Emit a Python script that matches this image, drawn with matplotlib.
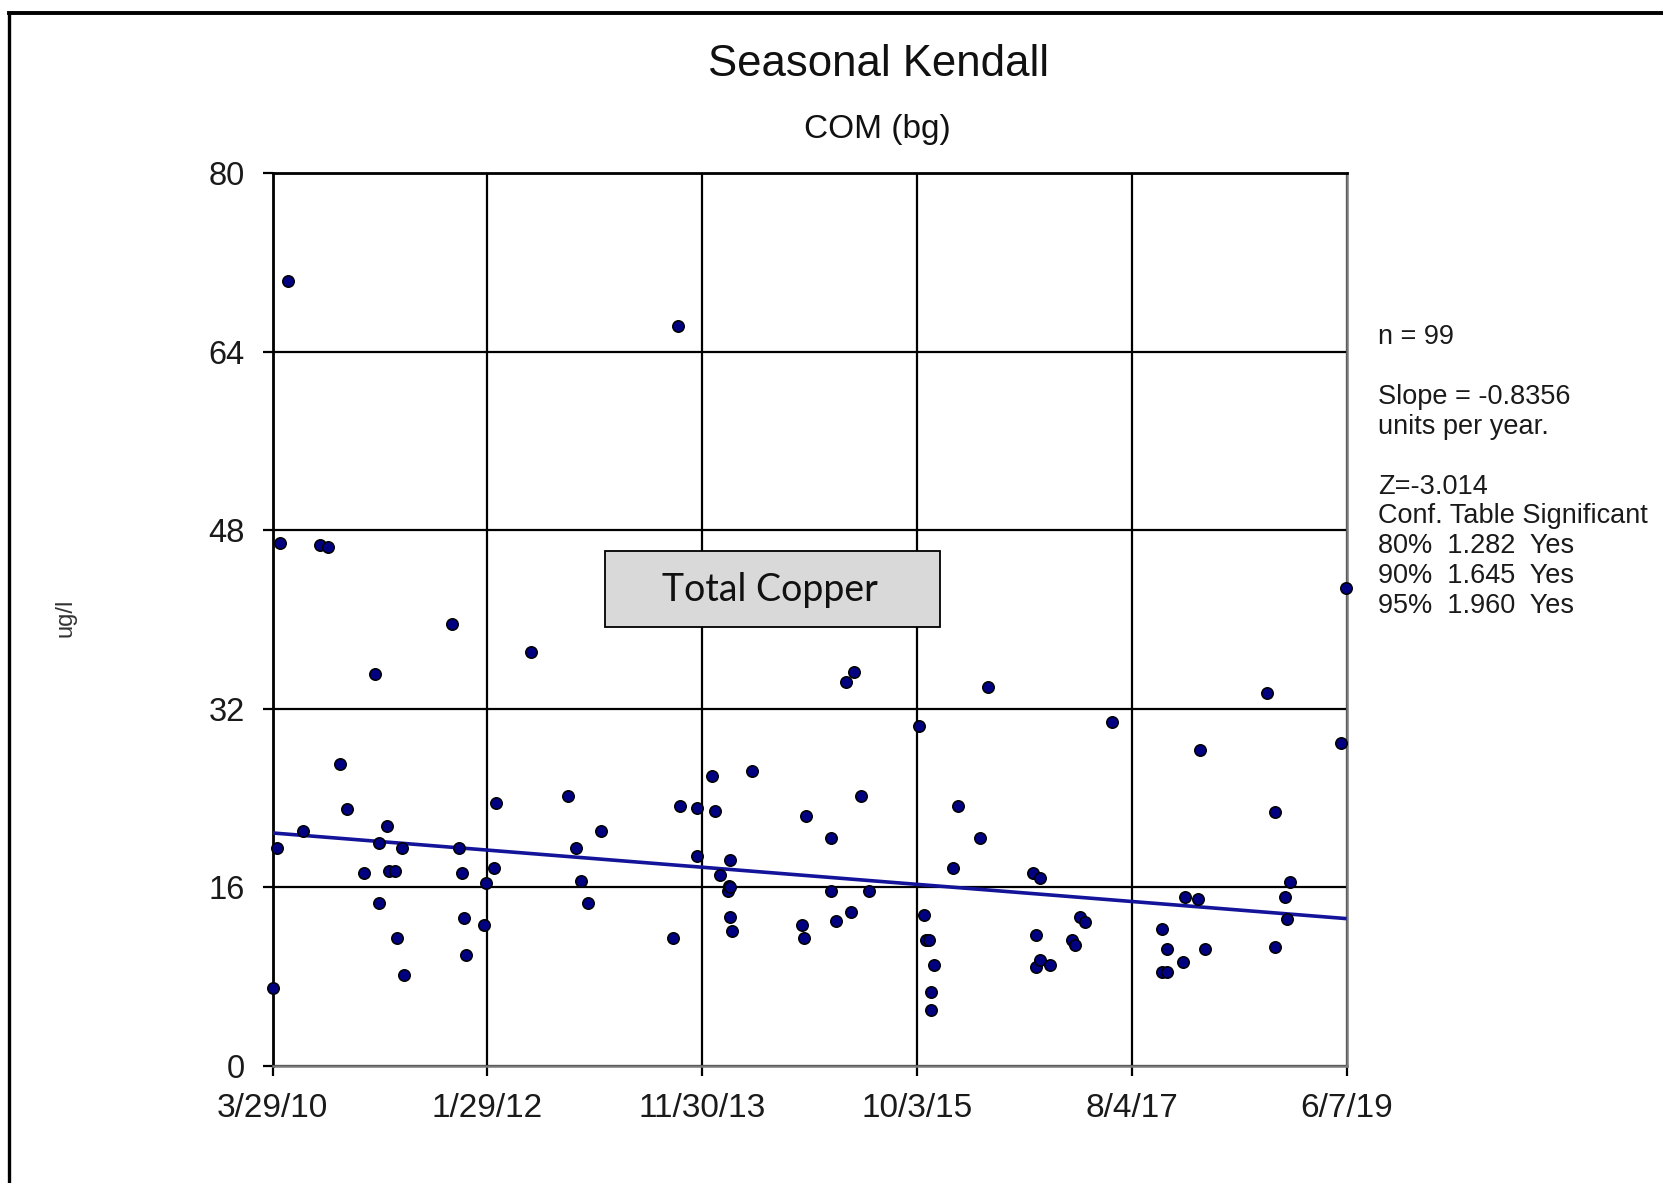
from datetime import datetime, timedelta

import matplotlib
matplotlib.use("Agg")
import matplotlib.pyplot as plt
from matplotlib.patches import Rectangle
from matplotlib.lines import Line2D

plt.rcParams["font.family"] = ["Liberation Sans", "DejaVu Sans"]

# sample dates (decimal years) and total copper, ug/l
sample_year = [
    2010.240, 2010.278, 2010.301, 2010.367, 2010.495, 2010.643, 2010.714, 2010.814, 2010.876, 2011.022,
    2011.113, 2011.148, 2011.150, 2011.219, 2011.236, 2011.285, 2011.299, 2011.342, 2011.364, 2011.770,
    2011.835, 2011.855, 2011.875, 2011.892, 2012.046, 2012.069, 2012.131, 2012.154, 2012.448, 2012.767,
    2012.833, 2012.876, 2012.938, 2013.047, 2013.660, 2013.703, 2013.722, 2013.868, 2013.872, 2014.002,
    2014.022, 2014.064, 2014.135, 2014.140, 2014.150, 2014.150, 2014.150, 2014.170, 2014.344, 2014.768,
    2014.786, 2014.806, 2015.018, 2015.020, 2015.063, 2015.148, 2015.191, 2015.213, 2015.277, 2015.342,
    2015.767, 2015.812, 2015.833, 2015.855, 2015.876, 2015.876, 2015.895, 2016.060, 2016.106, 2016.297,
    2016.363, 2016.745, 2016.768, 2016.768, 2016.810, 2016.810, 2016.893, 2017.081, 2017.101, 2017.144,
    2017.187, 2017.423, 2017.850, 2017.850, 2017.895, 2017.895, 2018.030, 2018.046, 2018.158, 2018.171,
    2018.215, 2018.749, 2018.813, 2018.813, 2018.900, 2018.920, 2018.944, 2019.386, 2019.428,
]
copper = [
    6.99, 19.49, 46.88, 70.35, 21.04, 46.68, 46.47, 27.07, 23.04, 17.25,
    35.11, 14.61, 19.94, 21.49, 17.48, 17.48, 11.47, 19.49, 8.10, 39.57,
    19.49, 17.25, 13.27, 9.90, 12.59, 16.35, 17.70, 23.52, 37.11, 24.18,
    19.49, 16.58, 14.61, 21.07, 11.47, 66.34, 23.31, 18.80, 23.07, 26.00,
    22.86, 17.07, 15.69, 16.10, 18.44, 16.00, 13.30, 12.10, 26.42, 12.61,
    11.47, 22.38, 15.69, 20.39, 13.00, 34.42, 13.72, 35.32, 24.18, 15.69,
    30.43, 13.48, 11.24, 11.24, 6.58, 4.99, 9.03, 17.72, 23.28, 20.41,
    33.98, 17.25, 11.72, 8.79, 16.83, 9.48, 9.00, 11.27, 10.82, 13.30,
    12.86, 30.84, 12.24, 8.40, 10.45, 8.40, 9.28, 15.07, 14.92, 28.29,
    10.45, 33.42, 22.72, 10.67, 15.07, 13.12, 16.49, 28.92, 42.79,
]

tick_dates = ["2010-03-29", "2012-01-29", "2013-11-30", "2015-10-03", "2017-08-04", "2019-06-07"]
tick_labels = ["3/29/10", "1/29/12", "11/30/13", "10/3/15", "8/4/17", "6/7/19"]
y_ticks = [0, 16, 32, 48, 64, 80]

# Sen slope line
slope = -0.8356
trend_start = 20.85

stats_lines = [
    "n = 99",
    "",
    "Slope = -0.8356",
    "units per year.",
    "",
    "Z=-3.014",
    "Conf. Table Significant",
    "80%  1.282  Yes",
    "90%  1.645  Yes",
    "95%  1.960  Yes",
]


def to_date(y):
    yr = int(y)
    return datetime(yr, 1, 1) + timedelta(days=(y - yr) * 365.25)


W, H = 1663, 1183
fig = plt.figure(figsize=(W / 100, H / 100), dpi=100)
ax = fig.add_axes([272.7 / W, 1 - 1065.5 / H, 1073.9 / W, 892.2 / H])

dates = [to_date(v) for v in sample_year]
ticks = [datetime.strptime(d, "%Y-%m-%d") for d in tick_dates]
start, end = ticks[0], ticks[-1]

# trend
t_years = (end - start).days / 365.25
ax.plot([start, end], [trend_start, trend_start + slope * t_years],
        color="#14149a", lw=2.6, zorder=3, solid_capstyle="butt")

ax.scatter(dates, copper, s=68, c="#000080", edgecolors="black",
           linewidths=1.1, zorder=4, clip_on=False)

ax.set_xlim(start, end)
ax.set_ylim(0, 80)
ax.set_xticks(ticks)
ax.set_xticklabels(tick_labels)
ax.set_yticks(y_ticks)

ax.set_axisbelow(True)
ax.grid(True, color="black", lw=1.6)
for side in ["top", "left"]:
    ax.spines[side].set_linewidth(2.0)
    ax.spines[side].set_color("black")
for side in ["right", "bottom"]:
    ax.spines[side].set_linewidth(1.8)
    ax.spines[side].set_color("#7a7a7a")

ax.tick_params(axis="x", length=7.5, width=1.6, pad=12, labelsize=24, colors="black",
               labelcolor="#1a1a1a")
ax.tick_params(axis="y", length=7, width=1.6, pad=13, labelsize=23.5, colors="black",
               labelcolor="#1a1a1a")

# titles
fig.text(879 / W, 1 - 76 / H, "Seasonal Kendall", fontsize=31.5, ha="center",
         va="baseline", color="#111111")
fig.text(877 / W, 1 - 138.3 / H, "COM (bg)", fontsize=24, ha="center",
         va="baseline", color="#111111")
fig.text(66 / W, 1 - 618 / H, "ug/l", fontsize=17, rotation=90, ha="center",
         va="center", color="#333333")

# stats block
for i, line in enumerate(stats_lines):
    if line:
        fig.text(1378 / W, 1 - (344 + i * 29.9) / H, line, fontsize=19.5,
                 ha="left", va="baseline", color="#1a1a1a")

# label box
fig.patches.append(Rectangle((605 / W, 1 - 627.3 / H), 335 / W, 76.6 / H,
                             transform=fig.transFigure, facecolor="#d9d9d9",
                             edgecolor="black", lw=1.3, zorder=5))
fig.text(770 / W, 1 - 601 / H, "Total Copper", fontsize=27, family=["Lato", "DejaVu Sans"],
         ha="center", va="baseline", color="#111111", zorder=6)

# outer frame (left and top edges only)
fig.lines.append(Line2D([8.5 / W, 8.5 / W], [0, 1 - 12.5 / H], transform=fig.transFigure,
                        color="black", lw=2.4))
fig.lines.append(Line2D([8.5 / W, 1], [1 - 12.5 / H, 1 - 12.5 / H], transform=fig.transFigure,
                        color="black", lw=2.8))

fig.savefig("out.png", dpi=100)
